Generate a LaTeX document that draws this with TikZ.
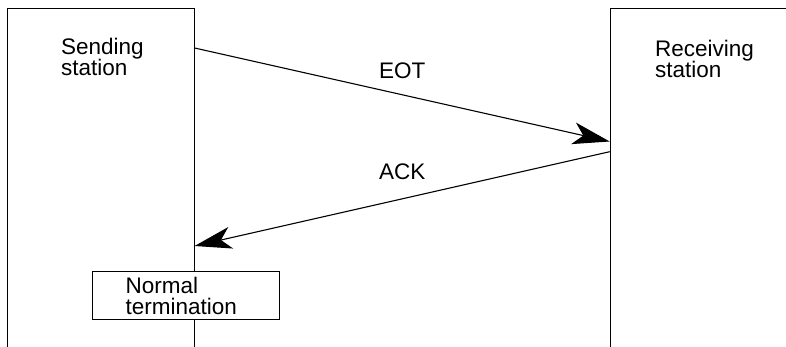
\documentclass[tikz,border=0pt]{standalone}
\usepackage{fontspec}
\setmainfont{Liberation Sans}
\usepackage{tikz}
\usetikzlibrary{arrows.meta,positioning}

\begin{document}
\begin{tikzpicture}[
    x=1pt, y=-1pt,
    font=\fontsize{22.5}{21}\selectfont,
    station/.style={rectangle, draw, line width=1.1pt, anchor=north west, minimum height=420pt},
    label/.style={anchor=north west, align=left, inner sep=0pt},
    termbox/.style={rectangle, draw, fill=white, line width=1.1pt, anchor=north west, align=left, text width=121pt, inner xsep=33pt, inner ysep=0pt, minimum height=48pt},
    arrow/.style={-{Stealth[length=37pt, width=22pt, inset=10pt]}, line width=1.1pt}
]
    \clip (0,0) rectangle (786,347);

    \node[station, minimum width=186.5pt] (send) at (7,8) {};
    \node[station, minimum width=300pt] (recv) at (609.7,8) {};

    \node[label] (sendlbl) at (61,38) {Sending\\station};
    \node[label] (recvlbl) at (655,40) {Receiving\\station};

    \node[termbox] (term) at (92,271) {Normal\\termination};

    \draw[arrow] ([yshift=-40pt]send.north east) -- node[pos=0.5, above=12pt] (eot) {EOT} ([yshift=-133.5pt]recv.north west);
    \draw[arrow] ([yshift=-143.7pt]recv.north west) -- node[pos=0.5, above=15pt] (ack) {ACK} ([yshift=-238pt]send.north east);
\end{tikzpicture}
\end{document}
